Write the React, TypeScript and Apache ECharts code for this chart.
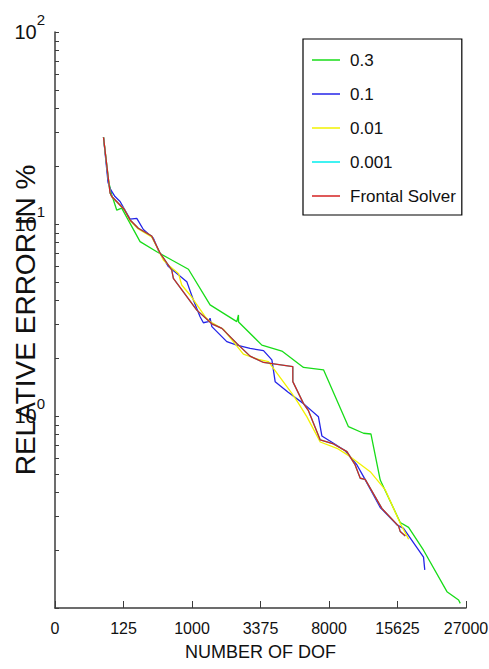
import React, { useEffect, useRef } from 'react';
import * as echarts from 'echarts';

// x values are the cube root of the number of degrees of freedom (mesh edge count),
// y values are the relative error in percent.
const xTickLabels = ['0', '125', '1000', '3375', '8000', '15625', '27000'];

const seriesNames = ['0.3', '0.1', '0.01', '0.001', 'Frontal Solver'];
const seriesColors = ['#18dc18', '#2424e8', '#f2f200', '#00eeee', '#d42222'];

const tol0_3: [number, number][] = [
  [3.54, 28.3], [3.89, 16.9], [4.14, 14.2], [4.51, 11.8], [4.87, 12.1],
  [6.21, 8.09], [7.43, 7.17], [8.52, 6.49], [9.74, 5.81], [11.32, 3.79],
  [13.27, 3.1], [13.39, 3.36], [13.4, 3.09], [15.1, 2.34], [16.56, 2.18],
  [18.14, 1.79], [19.6, 1.74], [21.42, 0.88], [22.52, 0.813], [23.06, 0.806],
  [23.74, 0.464], [25.2, 0.279], [25.81, 0.263], [26.9, 0.2], [28.61, 0.1216],
  [29.46, 0.11], [29.58, 0.1057],
];

const tol0_1: [number, number][] = [
  [3.54, 28.3], [3.87, 16.5], [4.02, 15.3], [4.38, 13.9], [4.75, 13.1],
  [5.48, 10.6], [5.97, 10.7], [6.45, 9.36], [7.18, 8.42], [7.55, 7.28],
  [8.28, 6.0], [9.62, 5.01], [10.1, 4.02], [10.59, 3.29], [10.83, 3.06],
  [11.2, 3.1], [11.32, 3.23], [11.45, 2.92], [12.54, 2.44], [13.27, 2.34],
  [14.24, 2.25], [15.22, 2.19], [15.83, 1.96], [16.07, 1.51], [17.02, 1.33],
  [18.14, 1.16], [19.23, 0.99], [19.48, 0.787], [20.33, 0.721], [21.18, 0.659],
  [22.04, 0.556], [22.52, 0.483], [23.74, 0.334], [24.96, 0.271], [25.44, 0.26],
  [26.9, 0.184], [26.99, 0.158],
];

const tol0_01: [number, number][] = [
  [3.54, 28.3], [4.02, 14.5], [4.14, 13.9], [5.06, 11.9], [5.48, 10.4],
  [6.08, 9.42], [7.06, 8.55], [7.91, 6.49], [8.4, 6.0], [9.01, 5.53],
  [9.25, 4.81], [9.86, 4.27], [10.96, 3.29], [11.32, 3.1], [12.29, 2.83],
  [13.75, 2.1], [14.85, 1.97], [15.58, 1.92], [17.29, 1.31], [17.66, 1.2],
  [18.39, 0.99], [19.36, 0.732], [20.58, 0.679], [21.55, 0.614], [23.01, 0.513],
  [24.11, 0.412], [25.2, 0.276], [25.81, 0.228],
];

const tol0_001: [number, number][] = [
  [3.54, 28.3], [4.02, 14.5], [4.14, 13.9], [5.06, 11.9], [5.48, 10.5],
  [6.08, 9.5], [7.06, 8.66], [7.67, 7.06], [8.52, 5.76], [8.64, 5.21],
  [10.35, 3.56], [11.45, 3.02], [12.18, 2.86], [13.27, 2.39], [14.24, 2.05],
  [15.22, 1.9], [17.36, 1.81], [17.36, 1.51], [18.14, 1.16], [18.5, 1.066],
  [19.36, 0.75], [20.33, 0.715], [21.31, 0.652], [21.91, 0.556], [22.28, 0.474],
  [22.64, 0.468], [23.86, 0.33], [25.08, 0.267], [25.2, 0.25], [25.57, 0.237],
];

const frontal: [number, number][] = [
  [3.54, 28.3], [4.02, 14.5], [4.14, 13.9], [5.06, 11.9], [5.48, 10.5],
  [6.08, 9.5], [7.06, 8.66], [7.67, 7.06], [8.52, 5.76], [8.64, 5.21],
  [10.35, 3.56], [11.45, 3.02], [12.18, 2.86], [13.27, 2.39], [14.24, 2.05],
  [15.22, 1.9], [17.36, 1.81], [17.36, 1.51], [18.14, 1.16], [18.5, 1.066],
  [19.36, 0.75], [20.33, 0.715], [21.31, 0.652], [21.91, 0.556], [22.28, 0.474],
  [22.64, 0.468], [23.86, 0.33], [25.08, 0.267], [25.2, 0.25], [25.57, 0.237],
];

const seriesData = [tol0_3, tol0_1, tol0_01, tol0_001, frontal];

const FONT = '"Liberation Sans", Arial, sans-serif';
const INK = '#111111';
const AXIS = '#3c3c3c';

export default function App() {
  const ref = useRef<HTMLDivElement>(null);

  useEffect(() => {
    if (!ref.current) return;
    const chart = echarts.init(ref.current, undefined, { renderer: 'svg' });

    chart.setOption({
      animation: false,
      backgroundColor: '#ffffff',
      grid: {
        left: 55,
        top: 32,
        right: 23,
        bottom: 61,
        containLabel: false,
        outerBoundsMode: 'none',
      },
      legend: {
        data: seriesNames,
        orient: 'vertical',
        left: 303,
        top: 39,
        padding: [11, 6, 9, 9],
        itemGap: 14,
        itemWidth: 28,
        itemHeight: 1.5,
        icon: 'rect',
        backgroundColor: '#ffffff',
        borderColor: '#000000',
        borderWidth: 1.2,
        borderRadius: 0,
        textStyle: {
          fontFamily: FONT,
          fontSize: 17,
          color: INK,
          lineHeight: 20,
          padding: [0, 0, 0, 5],
        },
      },
      xAxis: {
        type: 'value',
        min: 0,
        max: 30,
        interval: 5,
        name: 'NUMBER OF DOF',
        nameLocation: 'middle',
        nameGap: 35,
        nameMoveOverlap: false,
        nameTextStyle: { fontFamily: FONT, fontSize: 18, color: INK },
        axisLine: { show: true, lineStyle: { color: AXIS, width: 1.5 } },
        axisTick: { show: true, inside: true, length: 7, lineStyle: { color: AXIS, width: 1 } },
        axisLabel: {
          margin: 12,
          fontFamily: FONT,
          fontSize: 16,
          color: INK,
          formatter: (v: number) => xTickLabels[Math.round(v / 5)] ?? '',
        },
        splitLine: { show: false },
      },
      yAxis: {
        type: 'log',
        logBase: 10,
        min: 0.1,
        max: 100,
        name: 'RELATIVE ERROR IN %',
        nameLocation: 'middle',
        nameGap: 16,
        nameMoveOverlap: false,
        nameTextStyle: { fontFamily: FONT, fontSize: 28, color: INK },
        axisLine: { show: true, lineStyle: { color: AXIS, width: 1.5 } },
        axisTick: { show: true, inside: true, length: 4, lineStyle: { color: AXIS, width: 1 } },
        minorTick: { show: true, splitNumber: 9, length: 4, lineStyle: { color: AXIS, width: 1 } },
        axisLabel: {
          margin: 10,
          color: INK,
          formatter: (v: number) => {
            const e = Math.round(Math.log10(v));
            if (e < 0) return '';
            return `{b|10}{s|${e}}`;
          },
          rich: {
            b: { fontFamily: FONT, fontSize: 20, color: INK, padding: [10, 0, 10, 0] },
            s: { fontFamily: FONT, fontSize: 15, color: INK, padding: [0, 0, 25, 0] },
          },
        },
        splitLine: { show: false },
      },
      series: seriesNames.map((name, i) => ({
        name,
        type: 'line',
        data: seriesData[i],
        symbol: 'none',
        color: seriesColors[i],
        lineStyle: { color: seriesColors[i], width: 1.3 },
        z: i + 2,
      })),
    });

    return () => chart.dispose();
  }, []);

  return (
    <div
      ref={ref}
      style={{ position: 'fixed', left: 0, top: 0, width: 489, height: 669 }}
    />
  );
}
